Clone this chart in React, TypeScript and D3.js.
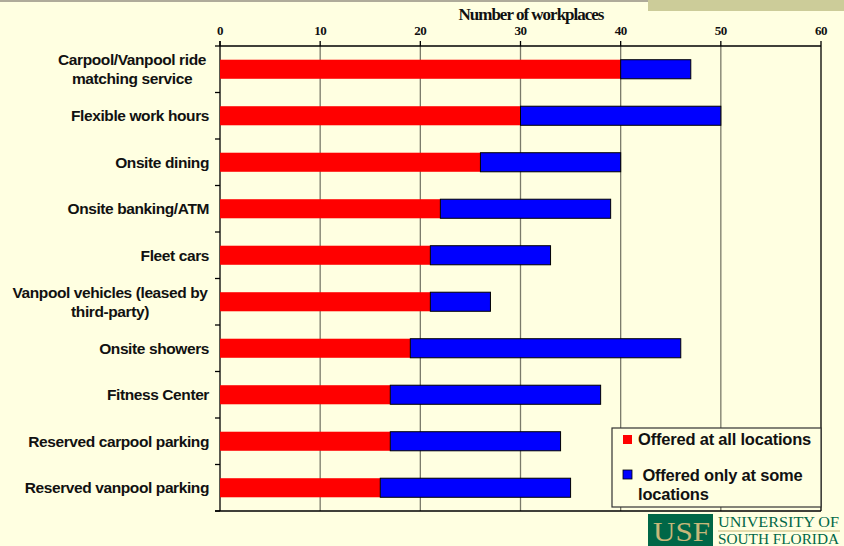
import React from "react";
import * as d3 from "d3";

const categories = [
  "Carpool/Vanpool ride|matching service",
  "Flexible work hours",
  "Onsite dining",
  "Onsite banking/ATM",
  "Fleet cars",
  "Vanpool vehicles (leased by|third-party)",
  "Onsite showers",
  "Fitness Center",
  "Reserved carpool parking",
  "Reserved vanpool parking",
];
const offeredAll = [40, 30, 26, 22, 21, 21, 19, 17, 17, 16];
const offeredSome = [7, 20, 14, 17, 12, 6, 27, 21, 17, 19];
const xTicks = [0, 10, 20, 30, 40, 50, 60];
const seriesNames = ["Offered at all locations", " Offered only at some|locations"];
const axisTitle = "Number of workplaces";

const W = 844;
const H = 546;
const left = 220;
const right = 821;
const top = 46;
const bottom = 511;

export default function App() {
  const x = d3.scaleLinear().domain([0, 60]).range([left, right]);
  const y = d3.scaleBand<number>().domain(d3.range(categories.length)).range([top, bottom]).paddingInner(0.59).paddingOuter(0.295);
  const bandStep = (bottom - top) / categories.length;
  const sans = "'Liberation Sans', Arial, sans-serif";
  const serif = "'Liberation Serif', 'Times New Roman', serif";
  const multiCenter: Record<number, number> = { 0: 132, 5: 110 };
  return (
    <div style={{ position: "absolute", left: 0, top: 0 }}>
      <svg width={W} height={H} style={{ display: "block" }}>
        <rect x={0} y={0} width={W} height={H} fill="#FFFFE1" />
        <rect x={0} y={0} width={W} height={2} fill="#AFAB9A" />
        <rect x={648} y={0} width={W - 648} height={11} fill="#CCCC99" />

        {/* gridlines */}
        {xTicks.slice(1, -1).map((t) => (
          <line key={"g" + t} x1={x(t)} x2={x(t)} y1={top} y2={bottom} stroke="#7A7A6A" strokeWidth={1.3} />
        ))}
        {/* frame */}
        <line x1={left} x2={right} y1={top} y2={top} stroke="#000" strokeWidth={1.3} />
        <line x1={right} x2={right} y1={top} y2={bottom} stroke="#000" strokeWidth={1.3} />
        <line x1={left - 5} x2={right} y1={bottom} y2={bottom} stroke="#000" strokeWidth={1.3} />
        <line x1={left} x2={left} y1={top - 5} y2={bottom} stroke="#000" strokeWidth={1.3} />
        {xTicks.map((t) => (
          <g key={"t" + t}>
            <line x1={x(t)} x2={x(t)} y1={top - 5} y2={top} stroke="#000" strokeWidth={1.3} />
            <text x={x(t)} y={35} textAnchor="middle" fontFamily={serif} fontWeight="bold" fontSize={13} letterSpacing={-0.5} fill="#111">
              {t}
            </text>
          </g>
        ))}
        {d3.range(categories.length + 1).map((i) => (
          <line key={"yt" + i} x1={left - 5} x2={left} y1={top + i * bandStep} y2={top + i * bandStep} stroke="#000" strokeWidth={1.3} />
        ))}
        <text x={531} y={20} textAnchor="middle" fontFamily={serif} fontWeight="bold" fontSize={17} letterSpacing={-1} fill="#111">
          {axisTitle}
        </text>

        {/* bars */}
        {categories.map((c, i) => {
          const y0 = y(i)!;
          const bh = y.bandwidth();
          const a = offeredAll[i];
          const b = offeredSome[i];
          return (
            <g key={"b" + i}>
              <rect x={x(0)} y={y0} width={x(a) - x(0)} height={bh} fill="#FF0000" />
              <rect x={x(a)} y={y0} width={x(a + b) - x(a)} height={bh} fill="#0000FF" stroke="#000" strokeWidth={1} />
            </g>
          );
        })}

        {/* category labels */}
        {categories.map((c, i) => {
          const lines = c.split("|");
          const cy = y(i)! + y.bandwidth() / 2;
          const lh = 19;
          const multi = lines.length > 1;
          return (
            <text key={"l" + i} fontFamily={sans} fontWeight="bold" fontSize={15.5} fill="#111" letterSpacing={-0.4}>
              {lines.map((ln, k) => (
                <tspan key={k} x={multi ? multiCenter[i] : 209} textAnchor={multi ? "middle" : "end"} y={cy + 5.5 + (k - (lines.length - 1) / 2) * lh}>
                  {ln}
                </tspan>
              ))}
            </text>
          );
        })}

        {/* legend */}
        <rect x={612} y={428} width={209} height={79} fill="#FFFFE1" stroke="#333" strokeWidth={1.2} />
        <rect x={623} y={435} width={9} height={9} fill="#FF0000" />
        <text x={638} y={445} fontFamily={sans} fontWeight="bold" fontSize={16.5} fill="#111" letterSpacing={-0.2}>
          {seriesNames[0]}
        </text>
        <rect x={623} y={470} width={9} height={9} fill="#0000FF" stroke="#000" strokeWidth={0.8} />
        <text fontFamily={sans} fontWeight="bold" fontSize={16.5} fill="#111" letterSpacing={-0.2}>
          <tspan x={638} y={481} style={{ whiteSpace: "pre" }}>{seriesNames[1].split("|")[0]}</tspan>
          <tspan x={638} y={500}>{seriesNames[1].split("|")[1]}</tspan>
        </text>

        {/* USF logo */}
        <rect x={648} y={514} width={65} height={32} fill="#006747" />
        <text x={653} y={541} fontFamily={serif} fontSize={28} fill="#C8B77A" textLength={57} lengthAdjust="spacingAndGlyphs">
          USF
        </text>
        <text x={718} y={527} fontFamily={serif} fontSize={15.5} fill="#006747" textLength={121} lengthAdjust="spacingAndGlyphs">
          UNIVERSITY OF
        </text>
        <line x1={718} x2={840} y1={531} y2={531} stroke="#C8B77A" strokeWidth={1.2} />
        <text x={718} y={544} fontFamily={serif} fontSize={15.5} fill="#006747" textLength={121} lengthAdjust="spacingAndGlyphs">
          SOUTH FLORIDA
        </text>
      </svg>
    </div>
  );
}
